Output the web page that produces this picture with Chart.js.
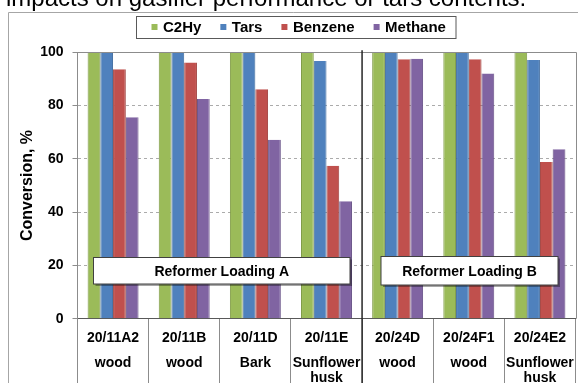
<!DOCTYPE html>
<html>
<head>
<meta charset="utf-8">
<script src="https://cdn.jsdelivr.net/npm/chart.js@4/dist/chart.umd.min.js"></script>
<style>
  html, body { margin: 0; padding: 0; background: #fff; overflow: hidden; }
  #wrap { position: relative; width: 578px; height: 383px; }
  #lead {
    position: absolute; left: 6px; top: -14px;
    font: 24px 'Liberation Sans', Arial, sans-serif; line-height: 24px;
    color: #000; white-space: nowrap; z-index: 2;
  }
  canvas { position: absolute; left: 0; top: 0; }
</style>
</head>
<body>
<div id="wrap">
  <div id="lead">impacts on gasifier performance or tars contents.</div>
  <canvas id="chart" width="578" height="383"></canvas>
</div>
<script>
// Runs and their feedstock
const categories = ['20/11A2', '20/11B', '20/11D', '20/11E', '20/24D', '20/24F1', '20/24E2'];
const feedstocks = [['wood'], ['wood'], ['Bark'], ['Sunflower', 'husk'], ['wood'], ['wood'], ['Sunflower', 'husk']];

// Conversion per component, %
const seriesNames = ['C2Hy', 'Tars', 'Benzene', 'Methane'];
const c2hy    = [100, 100, 100, 100, 100, 100, 100];
const tars    = [100, 100, 100, 96.7, 100, 100, 97.1];
const benzene = [93.6, 96.2, 86.1, 57.4, 97.4, 97.4, 58.8];
const methane = [75.6, 82.5, 67.2, 44.1, 97.6, 92.0, 63.6];

const yTicks = [0, 20, 40, 60, 80, 100];
const yTitle = 'Conversion, %';
const loadingLabels = ['Reformer Loading A', 'Reformer Loading B'];
const firstLoadingCount = 4; // runs 0..3 use loading A

const colors  = ['#9BBB59', '#4F81BD', '#C0504D', '#8064A2'];
const borders = ['#7E9A45', '#3D6A9E', '#9E3E3B', '#654E85'];

const FONT = "'Liberation Sans', Arial, sans-serif";

const decorations = {
  id: 'decorations',
  beforeDraw(chart) {
    const ctx = chart.ctx;
    ctx.save();
    ctx.fillStyle = '#fff';
    ctx.fillRect(0, 0, chart.width, chart.height);
    // outer frame
    ctx.strokeStyle = '#a6a6a6';
    ctx.lineWidth = 1;
    ctx.beginPath();
    ctx.moveTo(8.5, chart.height);
    ctx.lineTo(8.5, 12.5);
    ctx.lineTo(chart.width, 12.5);
    ctx.stroke();
    ctx.restore();
  },
  afterDraw(chart) {
    const ctx = chart.ctx;
    const area = chart.chartArea;
    const xs = chart.scales.x;
    const ys = chart.scales.y;
    ctx.save();

    // plot frame, top and right
    ctx.strokeStyle = '#8c8c8c';
    ctx.lineWidth = 1;
    ctx.beginPath();
    ctx.moveTo(area.left, Math.round(area.top) + 0.5);
    ctx.lineTo(Math.round(area.right) + 0.5, Math.round(area.top) + 0.5);
    ctx.lineTo(Math.round(area.right) + 0.5, area.bottom);
    ctx.stroke();

    // separator between loading A and loading B
    const sepX = (xs.getPixelForValue(firstLoadingCount - 1) + xs.getPixelForValue(firstLoadingCount)) / 2;
    ctx.strokeStyle = '#262626';
    ctx.lineWidth = 1.5;
    ctx.beginPath();
    ctx.moveTo(sepX, area.top - 2);
    ctx.lineTo(sepX, chart.height);
    ctx.stroke();

    // loading boxes
    const yMid = ys.getPixelForValue(18.3);
    const boxes = [
      { x0: 93.5, x1: 350, h: 26.5, text: loadingLabels[0] },
      { x0: 381, x1: 558, h: 28.5, text: loadingLabels[1] }
    ];
    ctx.font = 'bold 14px ' + FONT;
    ctx.textAlign = 'center';
    ctx.textBaseline = 'middle';
    boxes.forEach(b => {
      const top = Math.round(yMid - b.h / 2) + 0.5;
      const w = b.x1 - b.x0;
      ctx.fillStyle = 'rgba(0,0,0,0.35)';
      ctx.fillRect(b.x0 + 2, top + 2, w, b.h);
      ctx.fillStyle = '#fff';
      ctx.fillRect(b.x0, top, w, b.h);
      ctx.strokeStyle = '#404040';
      ctx.lineWidth = 1;
      ctx.strokeRect(b.x0, top, w, b.h);
      ctx.fillStyle = '#000';
      ctx.fillText(b.text, (b.x0 + b.x1) / 2, top + b.h / 2 + 1);
    });

    // category labels: run id, then feedstock
    ctx.font = 'bold 14px ' + FONT;
    ctx.textBaseline = 'alphabetic';
    ctx.fillStyle = '#000';
    const rowBase = [341.7, 366.7, 381.5];
    categories.forEach((c, i) => {
      const cx = xs.getPixelForValue(i);
      ctx.fillText(c, cx, rowBase[0]);
      feedstocks[i].forEach((line, j) => ctx.fillText(line, cx, rowBase[1 + j]));
    });

    // legend
    ctx.font = 'bold 15px ' + FONT;
    ctx.strokeStyle = '#595959';
    ctx.lineWidth = 1;
    ctx.fillStyle = '#fff';
    ctx.fillRect(136.5, 16.5, 319.5, 22);
    ctx.strokeRect(136.5, 16.5, 319.5, 22);
    ctx.textAlign = 'left';
    ctx.textBaseline = 'middle';
    let lx = 151.5;
    chart.data.datasets.forEach((ds, i) => {
      ctx.fillStyle = ds.backgroundColor;
      ctx.fillRect(lx, 24, 6, 6);
      ctx.fillStyle = '#000';
      ctx.fillText(ds.label, lx + 11.5, 28);
      lx += 11.5 + ctx.measureText(ds.label).width + 19;
    });

    ctx.restore();
  }
};

const seriesValues = [c2hy, tars, benzene, methane];

new Chart(document.getElementById('chart'), {
  type: 'bar',
  data: {
    labels: categories,
    datasets: seriesNames.map((name, i) => ({
      label: name,
      data: seriesValues[i],
      backgroundColor: colors[i],
      borderColor: borders[i],
      borderWidth: { left: 1, right: 1, top: 0, bottom: 0 },
      barPercentage: 1,
      categoryPercentage: 0.716
    }))
  },
  options: {
    responsive: false,
    animation: false,
    devicePixelRatio: 1,
    layout: { padding: { left: 0, right: 2.5, top: 52.3, bottom: 0 } },
    plugins: { legend: { display: false }, tooltip: { enabled: false } },
    scales: {
      x: {
        offset: true,
        ticks: { display: false },
        grid: {
          display: true,
          offset: true,
          drawOnChartArea: false,
          drawTicks: true,
          tickLength: 66,
          color: '#8c8c8c'
        },
        border: { display: true, color: '#595959', width: 1 },
        afterFit(scale) { scale.height = 64.3; }
      },
      y: {
        min: 0,
        max: 100,
        afterBuildTicks(scale) { scale.ticks = yTicks.map(v => ({ value: v })); },
        ticks: {
          color: '#000',
          padding: 9,
          font: { family: FONT, size: 14, weight: 'bold' }
        },
        grid: {
          color: ctx => (ctx.tick && (ctx.tick.value === 0 || ctx.tick.value === 100)) ? 'rgba(0,0,0,0)' : '#ababab',
          tickColor: '#8c8c8c',
          tickLength: 5,
          tickBorderDash: [],
          drawTicks: true
        },
        border: { display: true, color: '#8c8c8c', width: 1, dash: [3, 3] },
        title: {
          display: true,
          text: yTitle,
          color: '#000',
          font: { family: FONT, size: 16, weight: 'bold' },
          padding: { top: 17.9, bottom: 0 }
        },
        afterFit(scale) { scale.width = 77.5; }
      }
    }
  },
  plugins: [decorations]
});
</script>
</body>
</html>
